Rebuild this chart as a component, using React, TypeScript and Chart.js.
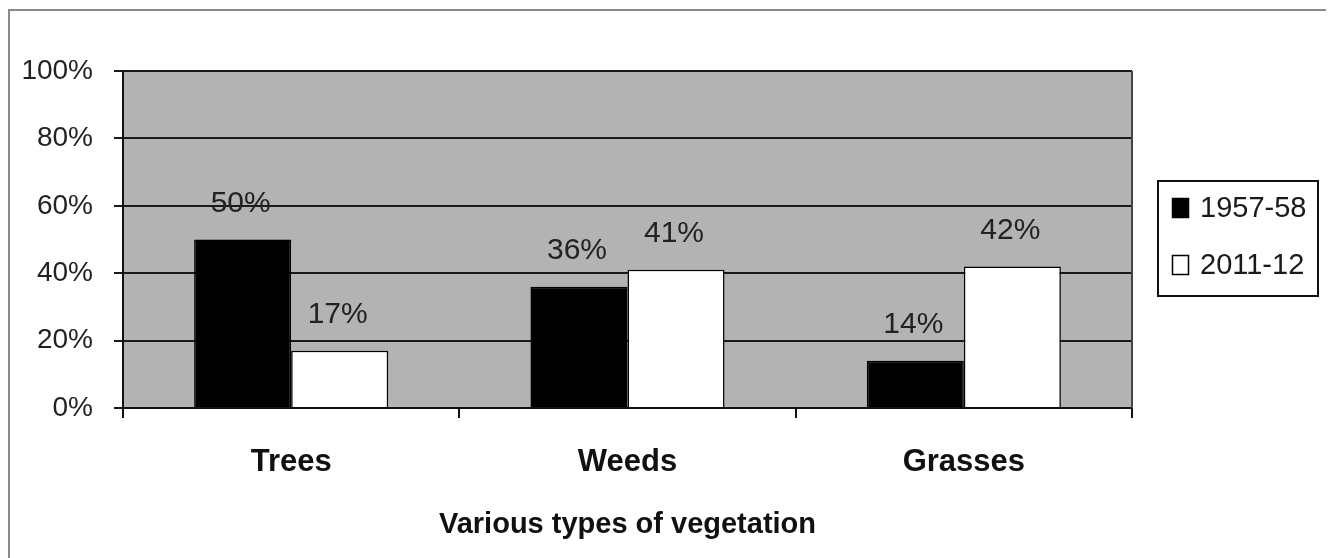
import React, { useEffect, useRef } from "react";
import { Chart, registerables } from "chart.js";

Chart.register(...registerables);

const categories = ["Trees", "Weeds", "Grasses"];
const series1957 = [50, 36, 14];
const series2011 = [17, 41, 42];
const seriesLabels = ["1957-58", "2011-12"];
const yTicks = [0, 20, 40, 60, 80, 100];

const FONT = "'Liberation Sans', Arial, sans-serif";

const framePlugin = {
  id: "frame",
  beforeDraw(chart: any) {
    const { ctx, chartArea } = chart;
    ctx.save();
    ctx.fillStyle = "#ffffff";
    ctx.fillRect(0, 0, chart.width, chart.height);
    ctx.strokeStyle = "#8a8a8a";
    ctx.lineWidth = 2;
    ctx.beginPath();
    ctx.moveTo(1, chart.height);
    ctx.lineTo(1, 2);
    ctx.lineTo(chart.width, 2);
    ctx.stroke();
    ctx.fillStyle = "#b3b3b3";
    ctx.fillRect(chartArea.left, chartArea.top, chartArea.right - chartArea.left, chartArea.bottom - chartArea.top);
    ctx.restore();
  },
  afterDraw(chart: any) {
    const { ctx, chartArea } = chart;
    ctx.save();
    ctx.strokeStyle = "#444";
    ctx.lineWidth = 2;
    ctx.beginPath();
    ctx.moveTo(chartArea.right, chartArea.top);
    ctx.lineTo(chartArea.right, chartArea.bottom);
    ctx.stroke();
    // legend
    const bx = 1150, by = 173, bw = 160, bh = 115;
    ctx.strokeStyle = "#111";
    ctx.lineWidth = 2;
    ctx.strokeRect(bx, by, bw, bh);
    const rows = [200, 257];
    chart.data.datasets.forEach((ds: any, i: number) => {
      const cy = rows[i];
      ctx.fillStyle = ds.backgroundColor;
      ctx.fillRect(1164, cy - 10, 17, 20);
      ctx.strokeStyle = "#000";
      ctx.lineWidth = 1.5;
      ctx.strokeRect(1164.5, cy - 9.5, 16, 19);
      ctx.fillStyle = "#1a1a1a";
      ctx.font = `29px ${FONT}`;
      ctx.textAlign = "left";
      ctx.textBaseline = "middle";
      ctx.fillText(ds.label, 1192, cy + 1);
    });
    ctx.restore();
  },
  afterDatasetsDraw(chart: any) {
    const { ctx } = chart;
    ctx.save();
    ctx.fillStyle = "#222";
    ctx.font = `30px ${FONT}`;
    ctx.textAlign = "center";
    ctx.textBaseline = "middle";
    chart.data.datasets.forEach((ds: any, i: number) => {
      const meta = chart.getDatasetMeta(i);
      meta.data.forEach((el: any, j: number) => {
        ctx.fillText(ds.data[j] + "%", el.x - 2, el.y - 36);
      });
    });
    ctx.restore();
  },
};

export default function App() {
  const ref = useRef<HTMLCanvasElement>(null);
  useEffect(() => {
    if (!ref.current) return;
    const chart = new Chart(ref.current, {
      type: "bar",
      data: {
        labels: categories,
        datasets: [
          {
            label: seriesLabels[0],
            data: series1957,
            backgroundColor: "#000000",
            borderColor: "#000000",
            borderWidth: 1.5,
            categoryPercentage: 0.577,
            barPercentage: 1,
          },
          {
            label: seriesLabels[1],
            data: series2011,
            backgroundColor: "#ffffff",
            borderColor: "#000000",
            borderWidth: 1.5,
            categoryPercentage: 0.577,
            barPercentage: 1,
          },
        ],
      },
      options: {
        responsive: false,
        animation: false,
        layout: { padding: { top: 63, right: 202, left: 0, bottom: 0 } },
        plugins: { legend: { display: false }, tooltip: { enabled: false } },
        scales: {
          x: {
            afterFit(scale: any) {
              scale.height = 150;
            },
            grid: {
              display: true,
              drawOnChartArea: false,
              drawTicks: true,
              tickLength: 10,
              color: "#111",
              lineWidth: 2,
              offset: true,
            },
            border: { display: true, color: "#111", width: 2 },
            ticks: {
              color: "#111",
              font: { family: FONT, size: 31, weight: "bold" },
              padding: 26,
            },
            title: {
              display: true,
              text: "Various types of vegetation",
              color: "#111",
              font: { family: FONT, size: 29, weight: "bold" },
              padding: { top: 0, bottom: 16 },
            },
          },
          y: {
            min: 0,
            max: 100,
            afterFit(scale: any) {
              scale.width = 115;
            },
            afterBuildTicks(scale: any) {
              scale.ticks = yTicks.map((v) => ({ value: v }));
            },
            grid: {
              color: "#1a1a1a",
              lineWidth: 2,
              drawTicks: true,
              tickLength: 9,
            },
            border: { display: true, color: "#111", width: 2 },
            ticks: {
              color: "#222",
              font: { family: FONT, size: 28 },
              padding: 21,
              callback: (v: any) => v + "%",
            },
          },
        },
      },
      plugins: [framePlugin],
    });
    return () => chart.destroy();
  }, []);
  return <canvas ref={ref} width={1326} height={550} style={{ display: "block" }} />;
}
